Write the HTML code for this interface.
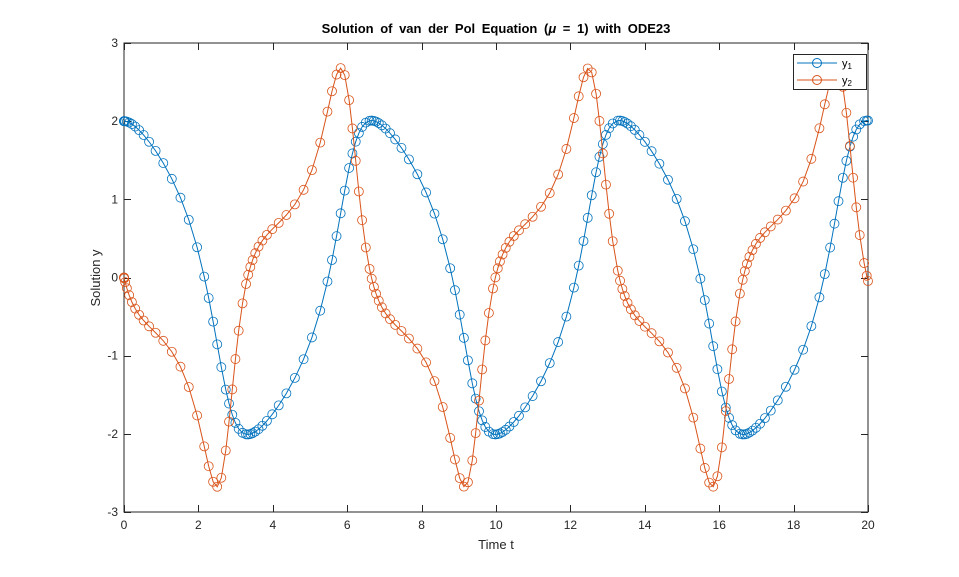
<!DOCTYPE html>
<html><head><meta charset="utf-8"><style>
html,body{margin:0;padding:0;background:#fff;}
svg{display:block;font-family:"Liberation Sans",Arial,sans-serif;}
</style></head><body>
<svg id="s" width="959" height="577" xmlns="http://www.w3.org/2000/svg">
<rect x="0" y="0" width="959" height="577" fill="#fff"/>
<rect x="124" y="43" width="744" height="469" fill="#fff" stroke="#262626" stroke-width="1"/>
<g id="ticks" stroke="#262626" stroke-width="1"></g>
<g id="labels" font-size="12" fill="#262626"></g>
<g id="series"></g>
<text x="496" y="33" text-anchor="middle" font-size="13" font-weight="bold" fill="#000" style="word-spacing:3px">Solution of van der Pol Equation (<tspan font-style="italic">μ</tspan> = 1) with ODE23</text>
<text x="496" y="549" text-anchor="middle" font-size="13" fill="#262626">Time t</text>
<text transform="translate(100,278) rotate(-90)" text-anchor="middle" font-size="13" fill="#262626">Solution y</text>
<rect x="793.5" y="54.5" width="73" height="35" fill="#fff" stroke="#262626" stroke-width="1"/>
<line x1="797" y1="63" x2="837" y2="63" stroke="#0072BD"/>
<circle cx="817" cy="63" r="4.5" fill="none" stroke="#0072BD"/>
<line x1="797" y1="80" x2="837" y2="80" stroke="#D95319"/>
<circle cx="817" cy="80" r="4.5" fill="none" stroke="#D95319"/>
<text x="842" y="67" font-size="11" fill="#000">y<tspan font-size="8" dy="2">1</tspan></text>
<text x="842" y="84" font-size="11" fill="#000">y<tspan font-size="8" dy="2">2</tspan></text>
</svg>
<script>
var X0=124,X1=868,Y0=43,Y1=512;
function px(t){return X0+(t/20)*(X1-X0);}
function py(v){return Y1-(v+3)/6*(Y1-Y0);}
var NS="http://www.w3.org/2000/svg";
function el(n,a,p){var e=document.createElementNS(NS,n);for(var k in a)e.setAttribute(k,a[k]);p.appendChild(e);return e;}
var tk=document.getElementById('ticks'),lb=document.getElementById('labels');
for(var i=0;i<=20;i+=2){var x=Math.round(px(i))+0.5;
 el('line',{x1:x,y1:Y1,x2:x,y2:Y1-7},tk);el('line',{x1:x,y1:Y0,x2:x,y2:Y0+7},tk);
 var t=el('text',{x:px(i),y:Y1+17,'text-anchor':'middle'},lb);t.textContent=i;}
for(var j=-3;j<=3;j++){var y=Math.round(py(j))+0.5;
 el('line',{x1:X0,y1:y,x2:X0+7,y2:y},tk);el('line',{x1:X1,y1:y,x2:X1-7,y2:y},tk);
 var t=el('text',{x:X0-6,y:py(j)+4,'text-anchor':'end'},lb);t.textContent=j;}
// ode23
function f(t,y){return [y[1],(1-y[0]*y[0])*y[1]-y[0]];}
var rtol=1e-3,atol=1e-6,thr=atol/rtol,t0=0,tf=20,hmax=2;
var t=t0,y=[2,0],T=[t],Y=[y.slice()];
var k1=f(t,y);
var absh=Math.min(hmax,tf-t0);
var rh=Math.max(Math.abs(k1[0])/Math.max(Math.abs(y[0]),thr),Math.abs(k1[1])/Math.max(Math.abs(y[1]),thr))/(0.8*Math.pow(rtol,1/3));
if(absh*rh>1)absh=1/rh;
var done=false,guard=0;
while(!done&&guard++<100000){
 var hmin=16*2.2e-16*Math.abs(t);
 absh=Math.min(hmax,Math.max(hmin,absh));
 var h=absh;
 if(1.1*absh>=Math.abs(tf-t)){h=tf-t;absh=Math.abs(h);done=true;}
 var nofailed=true,ynew,k4,tnew;
 while(true){
  var k2=f(t+h/2,[y[0]+h/2*k1[0],y[1]+h/2*k1[1]]);
  var k3=f(t+3*h/4,[y[0]+3*h/4*k2[0],y[1]+3*h/4*k2[1]]);
  tnew=t+h;
  ynew=[y[0]+h*(2/9*k1[0]+1/3*k2[0]+4/9*k3[0]),y[1]+h*(2/9*k1[1]+1/3*k2[1]+4/9*k3[1])];
  k4=f(tnew,ynew);
  var err=0;
  for(var c=0;c<2;c++){var e=-5/72*k1[c]+1/12*k2[c]+1/9*k3[c]-1/8*k4[c];
   var sc=Math.max(Math.max(Math.abs(y[c]),Math.abs(ynew[c])),thr);err=Math.max(err,Math.abs(e)/sc);}
  err*=absh;
  if(err>rtol){
   done=false;
   if(nofailed){nofailed=false;absh=Math.max(hmin,absh*Math.max(0.5,0.8*Math.pow(rtol/err,1/3)));}
   else absh=Math.max(hmin,0.5*absh);
   h=absh;
  } else break;
 }
 T.push(tnew);Y.push(ynew);
 if(nofailed){var temp=1.25*Math.pow(err/rtol,1/3);absh=temp>0.2?absh/temp:5*absh;}
 t=tnew;y=ynew;k1=k4;
}
var sr=document.getElementById('series');
[['#0072BD',0],['#D95319',1]].forEach(function(s){
 var d='';for(var i=0;i<T.length;i++)d+=(i?'L':'M')+px(T[i]).toFixed(2)+' '+py(Y[i][s[1]]).toFixed(2);
 el('path',{d:d,fill:'none',stroke:s[0],'stroke-width':1},sr);
 for(var i=0;i<T.length;i++)el('circle',{cx:px(T[i]).toFixed(2),cy:py(Y[i][s[1]]).toFixed(2),r:4.5,fill:'none',stroke:s[0],'stroke-width':0.8},sr);
});
</script>
</body></html>
